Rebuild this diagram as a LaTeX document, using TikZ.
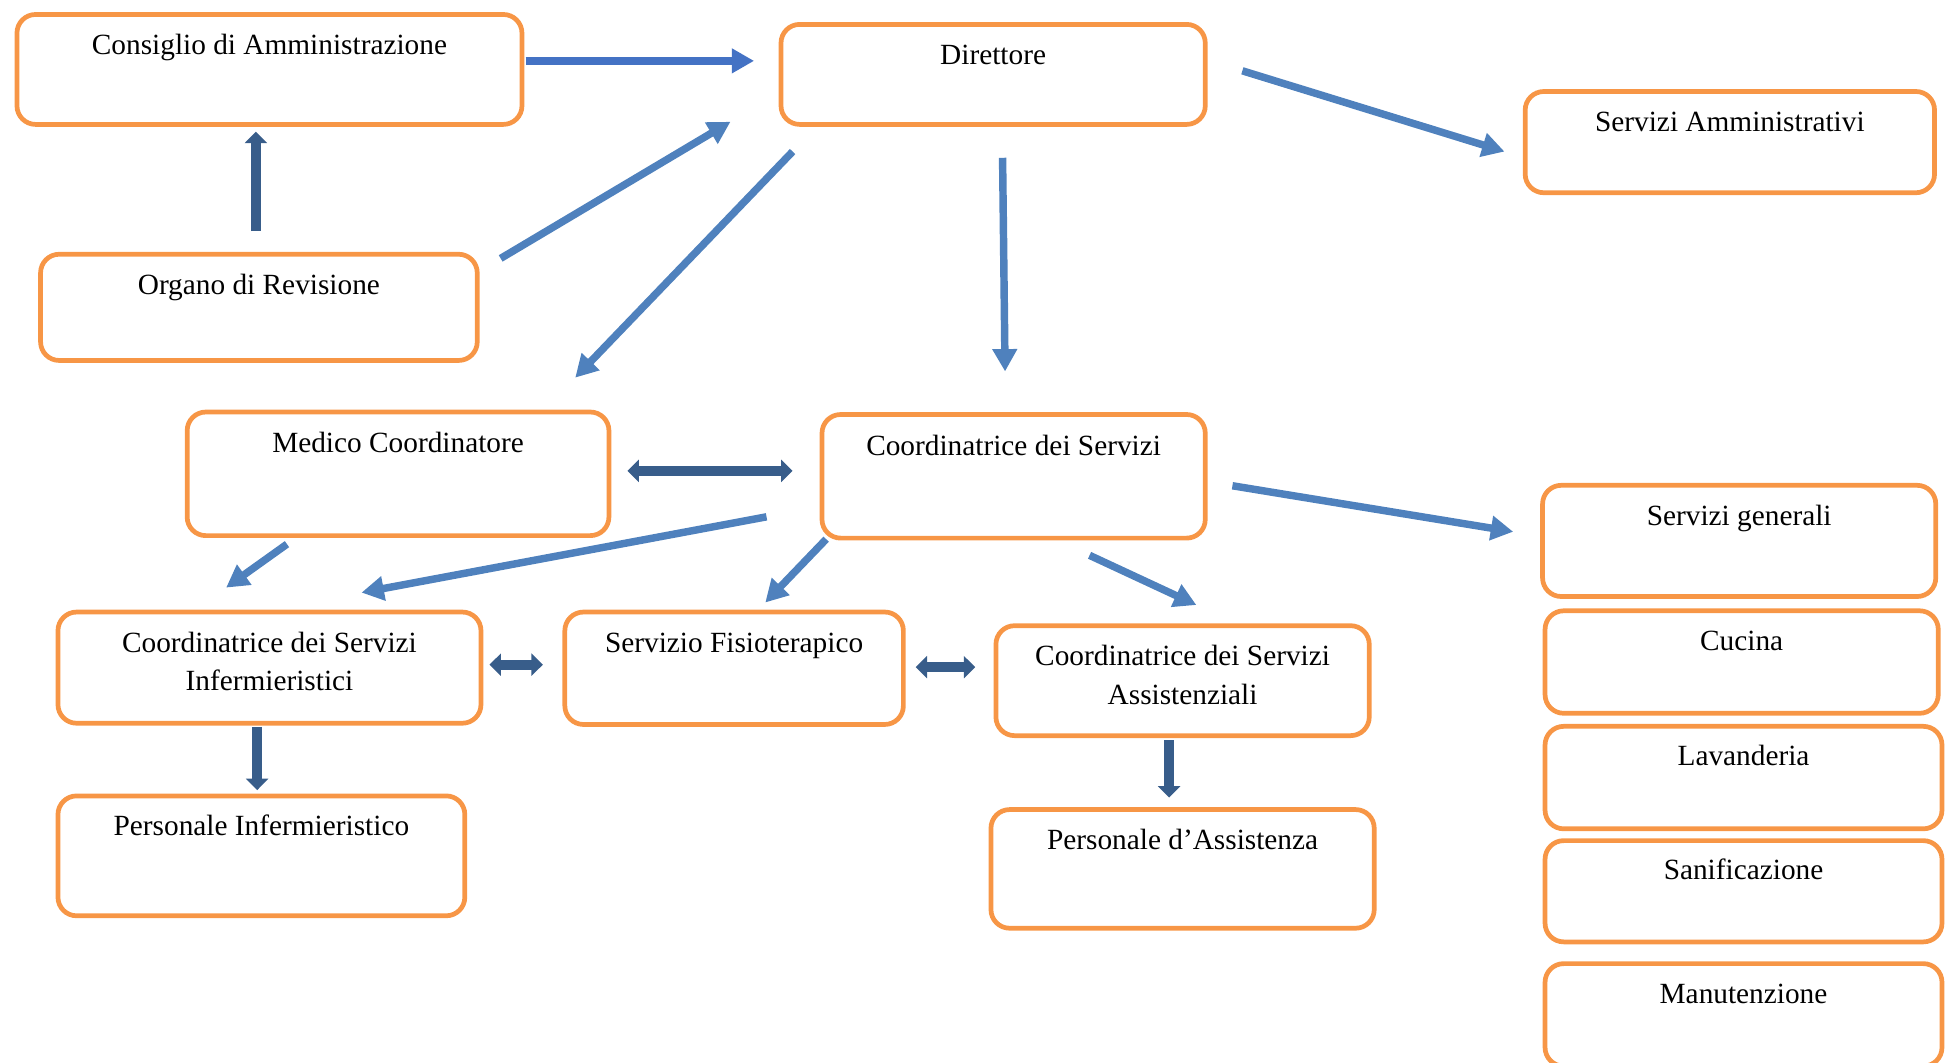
\documentclass[tikz,border=0pt]{standalone}
\usepackage{fontspec}
\setmainfont{Liberation Serif}
\usetikzlibrary{arrows.meta}
\definecolor{boxorange}{HTML}{F79646}
\definecolor{blueA}{HTML}{4472C4}
\definecolor{blueB}{HTML}{4F81BD}
\definecolor{darkblue}{HTML}{385D8A}
\begin{document}
\begin{tikzpicture}[x=0.5pt,y=-0.5pt,
  box/.style={draw=boxorange, line width=1.9pt, rounded corners=7.5pt, inner sep=0pt,
    align=center, anchor=north west, text height=16.1pt,
    font=\fontsize{11.8pt}{15.5pt}\selectfont},
  conn/.style={draw=blueB, line width=3pt, -{Triangle[width=9.5pt,length=9pt]}},
  connA/.style={conn, draw=blueA},
  dconn/.style={draw=darkblue, line width=4pt, -{Triangle[width=8.8pt,length=4.6pt]}},
  ddconn/.style={draw=darkblue, line width=4pt, {Triangle[width=8.8pt,length=4.6pt]}-{Triangle[width=8.8pt,length=4.6pt]}}]
\useasboundingbox (0,0) rectangle (1568,855);

% boxes
\node[box, minimum width=203.25pt, text depth=28.15pt] (cda) at (11.75,9.75) {Consiglio di Amministrazione};
\node[box, minimum width=170.75pt, text depth=24.15pt] (dir) at (626.75,17.75) {Direttore};
\node[box, minimum width=164.75pt, text depth=24.65pt] (sam) at (1225.75,71.75) {Servizi Amministrativi};
\node[box, minimum width=175.75pt, text depth=26.65pt] (orv) at (30.75,202.75) {Organo di Revisione};
\node[box, minimum width=169.75pt, text depth=33.65pt] (med) at (148.75,329.75) {Medico Coordinatore};
\node[box, minimum width=154.25pt, text depth=33.15pt, text height=16.6pt] (cds) at (659.75,331.75) {Coordinatrice dei Servizi};
\node[box, minimum width=158.25pt, text depth=28.65pt] (sgen) at (1239.75,388.75) {Servizi generali};
\node[box, minimum width=158.25pt, text depth=25.15pt] (cuc) at (1241.75,489.75) {Cucina};
\node[box, minimum width=159.75pt, text depth=25.65pt, text height=15.6pt] (lav) at (1241.75,582.75) {Lavanderia};
\node[box, minimum width=159.75pt, text depth=25.15pt, text height=15.6pt] (san) at (1241.75,674.75) {Sanificazione};
\node[box, minimum width=159.75pt, text depth=25.15pt] (man) at (1241.75,773.75) {Manutenzione};
\node[box, minimum width=170.25pt, text height=31.6pt, text depth=13.15pt] (cinf) at (44.75,490.75) {Coordinatrice dei Servizi\\Infermieristici};
\node[box, minimum width=136.25pt, text depth=29.15pt] (fis) at (452.75,490.75) {Servizio Fisioterapico};
\node[box, minimum width=150.25pt, text height=31.6pt, text depth=12.65pt] (cass) at (799.75,501.75) {Coordinatrice dei Servizi\\Assistenziali};
\node[box, minimum width=163.75pt, text depth=32.15pt] (pinf) at (44.75,638.75) {Personale Infermieristico};
\node[box, minimum width=154.25pt, text depth=31.65pt] (pass) at (795.75,649.75) {Personale d’Assistenza};

% arrow end points
\coordinate (a1) at (423,49);   \coordinate (a2) at (607,49);
\coordinate (b1) at (206,186);  \coordinate (b2) at (206,106);
\coordinate (c1) at (403,208);  \coordinate (c2) at (588,98);
\coordinate (d1) at (638,122);  \coordinate (d2) at (463,304);
\coordinate (e1) at (1000,57);  \coordinate (e2) at (1211,122);
\coordinate (f1) at (807,127);  \coordinate (f2) at (809,299);
\coordinate (g1) at (505,379);  \coordinate (g2) at (638,379);
\coordinate (h1) at (992,391);  \coordinate (h2) at (1218,428);
\coordinate (i1) at (231,438);  \coordinate (i2) at (182,473);
\coordinate (j1) at (617,416);  \coordinate (j2) at (291,477);
\coordinate (k1) at (665,434);  \coordinate (k2) at (616,485);
\coordinate (l1) at (877,447);  \coordinate (l2) at (963,487);
\coordinate (m1) at (394,535);  \coordinate (m2) at (437,535);
\coordinate (n1) at (737,537);  \coordinate (n2) at (785,537);
\coordinate (o1) at (207,585);  \coordinate (o2) at (207,636);
\coordinate (p1) at (941,596);  \coordinate (p2) at (941,642);

% connectors
\draw[connA] (a1) -- (a2);
\draw[dconn] (b1) -- (b2);
\draw[conn] (c1) -- (c2);
\draw[conn] (d1) -- (d2);
\draw[conn] (e1) -- (e2);
\draw[conn] (f1) -- (f2);
\draw[ddconn] (g1) -- (g2);
\draw[conn] (h1) -- (h2);
\draw[conn] (i1) -- (i2);
\draw[conn] (j1) -- (j2);
\draw[conn] (k1) -- (k2);
\draw[conn] (l1) -- (l2);
\draw[ddconn] (m1) -- (m2);
\draw[ddconn] (n1) -- (n2);
\draw[dconn] (o1) -- (o2);
\draw[dconn] (p1) -- (p2);
\end{tikzpicture}
\end{document}
